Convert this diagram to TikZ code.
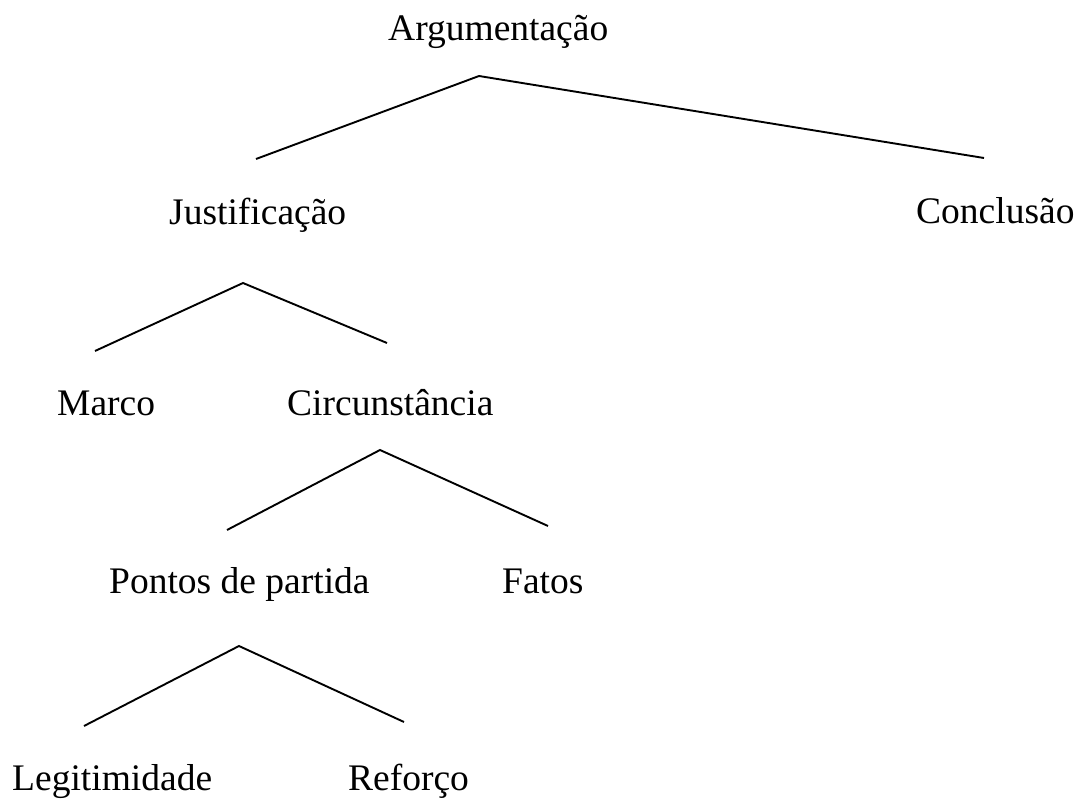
\documentclass[tikz,border=0pt]{standalone}
\usepackage{fontspec}
\setmainfont{Liberation Serif}
\tikzset{
    term/.style={inner sep=0pt, anchor=base west, font=\fontsize{37.5}{45}\selectfont}, % the words of the tree
    branch/.style={line width=1.9pt, line join=miter}, % the two strokes below each word
}

\begin{document}
\begin{tikzpicture}[x=1pt, y=-1pt]
    \useasboundingbox (0,0) rectangle (1074,799);
    \node[term] (arg) at (388,41) {Argumentação};
    \node[term] (just) at (169,225) {Justificação};
    \node[term] (concl) at (916,224) {Conclusão};
    \node[term] (marco) at (57,416) {Marco};
    \node[term] (circ) at (287,416) {Circunstância};
    \node[term] (pontos) at (109,593) {Pontos de partida};
    \node[term] (fatos) at (502,593) {Fatos};
    \node[term] (legit) at (12,790) {Legitimidade};
    \node[term] (reforco) at (348,790) {Reforço};
    % ends of the branches
    \coordinate (arg-top) at (479,76);
    \coordinate (arg-l) at (256,159);
    \coordinate (arg-r) at (984,158);
    \coordinate (just-top) at (243,283);
    \coordinate (just-l) at (95,351);
    \coordinate (just-r) at (387,343);
    \coordinate (circ-top) at (380,450);
    \coordinate (circ-l) at (227,530);
    \coordinate (circ-r) at (548,526);
    \coordinate (pontos-top) at (239,646);
    \coordinate (pontos-l) at (84,726);
    \coordinate (pontos-r) at (404,722);
    \draw[branch] (arg-l) -- (arg-top) -- (arg-r);
    \draw[branch] (just-l) -- (just-top) -- (just-r);
    \draw[branch] (circ-l) -- (circ-top) -- (circ-r);
    \draw[branch] (pontos-l) -- (pontos-top) -- (pontos-r);
\end{tikzpicture}
\end{document}
